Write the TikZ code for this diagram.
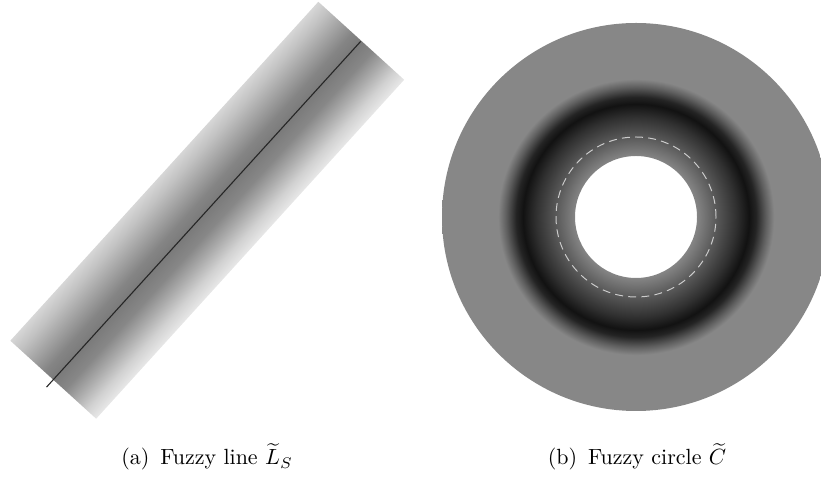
\documentclass[tikz,border=0pt]{standalone}
\usepackage{amsmath}
% membership profile across the fuzzy line (lower-right edge -> upper-left edge);
% the band itself fills 25bp..75bp of the shading
\pgfdeclareverticalshading{fuzzyband}{100bp}{
  color(0bp)=(black!9); color(25bp)=(black!9); color(30.6bp)=(black!18);
  color(37.1bp)=(black!33); color(43.5bp)=(black!47); color(50bp)=(black!52);
  color(55.2bp)=(black!48); color(62.9bp)=(black!35); color(69.4bp)=(black!24);
  color(75bp)=(black!16); color(100bp)=(black!16)}
% membership profile of the fuzzy circle (25bp = outer rim)
\pgfdeclareradialshading{fuzzyring}{\pgfpoint{0bp}{0bp}}{
  color(0bp)=(black!48); color(7.86bp)=(black!48); color(10.31bp)=(black!65);
  color(12.89bp)=(black!81); color(14.56bp)=(black!93); color(15.46bp)=(black!86);
  color(16.75bp)=(black!63); color(17.78bp)=(black!47); color(50bp)=(black!47)}
\tikzset{
  fuzzyline/.style={draw=black!85, line width=0.5pt},
  crispcircle/.style={draw=black!20, line width=0.45pt, dash pattern=on 3.6pt off 2.4pt},
  subcap/.style={anchor=base, font=\normalsize}
}
\begin{document}
\begin{tikzpicture}[x=0.455pt, y=0.455pt]
\useasboundingbox (0,0) rectangle (821,479);
\def\hl{229}   % half length of the band
\def\hw{58}    % half width of the band
\def\rout{194} % outer radius of the ring
\def\rin{61}   % radius of the hole
\def\rc{80}    % radius of the crisp circle
% (a) fuzzy line: band rotated about its centre
\begin{scope}[transform canvas={shift={(207.25,268.75)}, rotate=47.74}]
  \shade[shading=fuzzyband] (-\hl,-\hw) rectangle (\hl,\hw);
  \coordinate (lineS) at (-239,0);
  \coordinate (lineE) at (228,0);
  \draw[fuzzyline] (lineS) -- (lineE);
\end{scope}
% (b) fuzzy circle: shaded ring with crisp circle dashed
\coordinate (ringC) at (636,262);
\shade[shading=fuzzyring, even odd rule]
  (ringC) circle (\rout) (ringC) circle (\rin);
\draw[crispcircle] (ringC) circle (\rc);
% sub-captions
\node[subcap] (capA) at (207,14) {(a)\enspace Fuzzy line $\widetilde{L}_S$};
\node[subcap] (capB) at (637,14) {(b)\enspace Fuzzy circle $\widetilde{C}$};
\end{tikzpicture}
\end{document}
